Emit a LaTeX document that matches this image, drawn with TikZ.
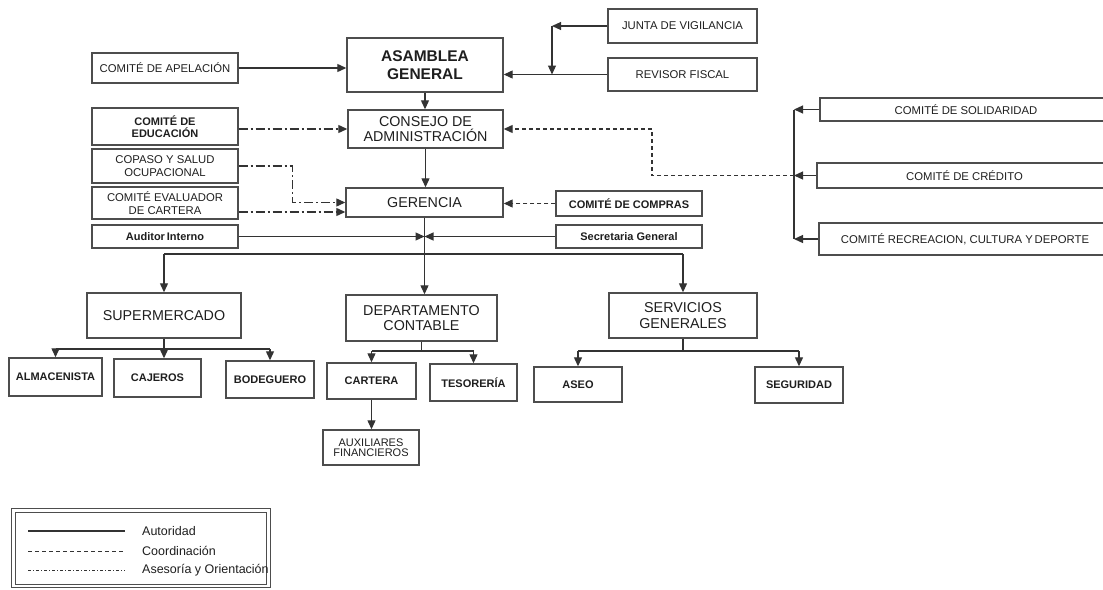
\documentclass[tikz,border=0pt]{standalone}
\usepackage{fontspec}
\setmainfont{Liberation Sans}
\usetikzlibrary{arrows.meta}
\definecolor{gris}{HTML}{333333}
\definecolor{borde}{HTML}{4D4D4D}
\definecolor{texto}{HTML}{1E1E1E}

\begin{document}
\begin{tikzpicture}[x=1pt,y=-1pt,
	caja/.style={draw=borde,line width=1.4pt,text=texto,align=center,inner sep=1pt},
	chica/.style={caja,font=\fontsize{11.3}{12.5}\selectfont},
	chicab/.style={caja,font=\fontsize{11}{12}\selectfont\bfseries},
	grande/.style={caja,font=\fontsize{14.3}{15.5}\selectfont},
	tam/.style 2 args={minimum width=#1pt,minimum height=#2pt},
	linea/.style={draw=gris,line width=1.2pt},
	flecha/.style={linea,-{Triangle[length=9pt,width=8pt]}},
	coord/.style={dash pattern=on 4pt off 3pt},
	asesor/.style={dash pattern=on 9pt off 3pt on 2pt off 3pt},
	leyenda/.style={anchor=west,inner sep=0pt,text=texto,font=\fontsize{12.5}{14}\selectfont}]
	\useasboundingbox (0,0) rectangle (1103,589);

	\node[chica,tam={146}{30}] (apelacion) at (165,68) {COMITÉ DE APELACIÓN};
	\node[caja,tam={156}{54},font=\fontsize{15.5}{17.5}\selectfont\bfseries] (asamblea) at (425,65) {ASAMBLEA\\GENERAL};
	\node[chica,tam={149}{34}] (junta) at (682.5,26) {JUNTA DE VIGILANCIA};
	\node[chica,tam={149}{33}] (revisor) at (682.5,74.5) {REVISOR FISCAL};
	\node[chicab,tam={146}{37}] (educacion) at (165,126.5) {COMITÉ DE\\EDUCACIÓN};
	\node[grande,tam={155}{38}] (consejo) at (425.5,129) {CONSEJO DE\\ADMINISTRACIÓN};
	\node[chica,tam={146}{34}] (copaso) at (165,166) {COPASO Y SALUD\\OCUPACIONAL};
	\node[chica,tam={146}{32}] (evaluador) at (165,203) {COMITÉ EVALUADOR\\DE CARTERA};
	\node[chicab,tam={146}{23}] (auditor) at (165,236.5) {Auditor\,Interno};
	\node[grande,tam={157}{29}] (gerencia) at (424.5,202.5) {GERENCIA};
	\node[chicab,tam={146}{25}] (compras) at (629,203.5) {COMITÉ DE COMPRAS};
	\node[chicab,tam={146}{23}] (secretaria) at (629,236.5) {Secretaria General};
	\node[chica,tam={292}{23}] (solidaridad) at (966,109.5) {COMITÉ DE SOLIDARIDAD};
	\node[chica,tam={295}{25}] (credito) at (964.5,175.5) {COMITÉ DE CRÉDITO};
	\node[chica,tam={292}{32}] (recreacion) at (965,239) {COMITÉ RECREACION, CULTURA Y\,DEPORTE};

	\node[grande,tam={154}{45}] (super) at (164,315.5) {SUPERMERCADO};
	\node[grande,tam={151}{46}] (depto) at (421.5,318) {DEPARTAMENTO\\CONTABLE};
	\node[grande,tam={148}{45}] (servicios) at (683,315.5) {SERVICIOS\\GENERALES};
	\node[chicab,tam={93}{38}] (almacenista) at (55.5,377) {ALMACENISTA};
	\node[chicab,tam={87}{38}] (cajeros) at (157.5,378) {CAJEROS};
	\node[chicab,tam={88}{37}] (bodeguero) at (270,379.5) {BODEGUERO};
	\node[chicab,tam={89}{36}] (cartera) at (371.5,381) {CARTERA};
	\node[chicab,tam={87}{37}] (tesoreria) at (473.5,382.5) {TESORERÍA};
	\node[caja,tam={96}{35},font=\fontsize{11}{10}\selectfont] (auxiliares) at (371,447.5) {AUXILIARES\\FINANCIEROS};
	\node[chicab,tam={88}{35}] (aseo) at (578,384.5) {ASEO};
	\node[chicab,tam={88}{36}] (seguridad) at (799,385) {SEGURIDAD};

	\draw[flecha] (apelacion.east) -- (apelacion.east -| asamblea.west);
	\coordinate (vig) at (552,26);
	\draw[flecha] (junta.west) -- (vig);
	\draw[flecha] (vig) -- (vig |- revisor.west);
	\draw[flecha] (revisor.west) -- (revisor.west -| asamblea.east);
	\draw[flecha] (asamblea.south) -- (asamblea.south |- consejo.north);
	\draw[flecha] (consejo.south) -- (consejo.south |- gerencia.north);
	\draw[flecha,asesor] (consejo.west -| educacion.east) -- (consejo.west);
	\draw[flecha,asesor] (copaso.east) -- ++(54,0) |- (gerencia.west);
	\draw[flecha,asesor] ([yshift=-9pt]evaluador.east) -- ([yshift=-9pt]evaluador.east -| gerencia.west);
	\draw[flecha,coord] (compras.west) -- (compras.west -| gerencia.east);

	\coordinate (cb) at (794,0);
	\draw[linea] (cb |- solidaridad.west) -- (cb |- recreacion.west);
	\draw[flecha] (solidaridad.west) -- (solidaridad.west -| cb);
	\draw[flecha] (credito.west) -- (credito.west -| cb);
	\draw[flecha] (recreacion.west) -- (recreacion.west -| cb);
	\draw[flecha,coord] (credito.west -| cb) -- ++(-142,0) |- (consejo.east);

	\coordinate (bus) at (424.5,254);
	\draw[flecha] (gerencia.south) -- (gerencia.south |- depto.north);
	\draw[flecha] (auditor.east) -- (auditor.east -| gerencia.south);
	\draw[flecha] (secretaria.west) -- (secretaria.west -| gerencia.south);
	\draw[linea] (bus -| super.north) -- (bus -| servicios.north);
	\draw[flecha] (bus -| super.north) -- (super.north);
	\draw[flecha] (bus -| servicios.north) -- (servicios.north);

	\coordinate (sm) at (164,349);
	\draw[linea] (sm -| almacenista.north) -- (sm -| bodeguero.north);
	\draw[flecha] (super.south) -- (super.south |- cajeros.north);
	\draw[flecha] (sm -| almacenista.north) -- (almacenista.north);
	\draw[flecha] (sm -| bodeguero.north) -- (bodeguero.north);

	\coordinate (dc) at (421.5,351);
	\draw[linea] (depto.south) -- (dc);
	\draw[linea] (dc -| cartera.north) -- (dc -| tesoreria.north);
	\draw[flecha] (dc -| cartera.north) -- (cartera.north);
	\draw[flecha] (dc -| tesoreria.north) -- (tesoreria.north);
	\draw[flecha] (cartera.south) -- (cartera.south |- auxiliares.north);

	\coordinate (sg) at (683,351);
	\draw[linea] (servicios.south) -- (sg);
	\draw[linea] (sg -| aseo.north) -- (sg -| seguridad.north);
	\draw[flecha] (sg -| aseo.north) -- (aseo.north);
	\draw[flecha] (sg -| seguridad.north) -- (seguridad.north);

	\draw[draw=borde,line width=1pt,double,double distance=2.2pt] (13.5,510.5) rectangle (268.5,586);
	\draw[linea] (28,531) -- (125,531);
	\draw[linea,line width=0.9pt,coord] (28,551) -- (125,551);
	\draw[linea,line width=0.9pt,dash pattern=on 3pt off 2pt on 1pt off 2pt] (28,570) -- (125,570);
	\node[leyenda] (autoridad) at (142,531) {Autoridad};
	\node[leyenda] (coordinacion) at (142,550.5) {Coordinación};
	\node[leyenda] (asesoria) at (142,570) {Asesoría y Orientación};
\end{tikzpicture}
\end{document}
